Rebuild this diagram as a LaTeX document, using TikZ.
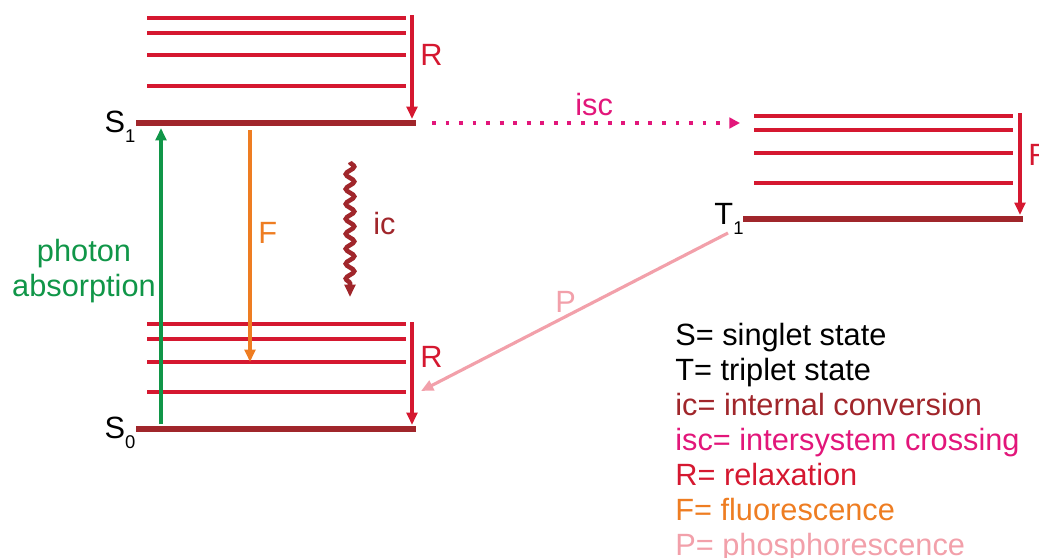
\documentclass[tikz,border=0pt]{standalone}
\usepackage{fontspec}
\setmainfont{Liberation Sans}
\usetikzlibrary{arrows.meta,decorations.pathmorphing,positioning}
\definecolor{vibred}{RGB}{213,24,48}
\definecolor{basered}{RGB}{160,38,43}
\definecolor{absgreen}{RGB}{16,150,72}
\definecolor{fluorange}{RGB}{238,125,34}
\definecolor{iscmagenta}{RGB}{226,22,122}
\definecolor{phospink}{RGB}{242,160,170}
\newcommand{\levelsub}[1]{\raisebox{-0.6ex}{\fontsize{10.5}{10.5}\selectfont #1}}

\begin{document}
\begin{tikzpicture}[x=0.02cm, y=-0.02cm, font=\fontsize{17.5}{19.5}\selectfont,
    vib/.style={vibred, line width=2.1pt},
    base/.style={basered, line width=3.2pt},
    tip/.style={-{Triangle[length=7pt,width=6pt]}},
    relax/.style={vibred, line width=1.8pt, tip},
    lbl/.style={anchor=base west, inner sep=0pt}]
    \useasboundingbox (0,0) rectangle (1039,558);
    % vibrational levels of S1, S0 and T1
    \foreach \y in {18,33,55,86,324,339,362,392}
        \draw[vib] (147,\y) -- (406,\y);
    \foreach \y in {116,130,153,183}
        \draw[vib] (754,\y) -- (1013,\y);
    % electronic levels
    \draw[base] (136,123) -- (416,123);
    \draw[base] (136,429) -- (416,429);
    \draw[base] (743,219) -- (1023,219);
    \node (s1) at (120,127) {S\levelsub{1}};
    \node (s0) at (120,433) {S\levelsub{0}};
    \node (t1) at (729,219) {T\levelsub{1}};
    % end points of the transitions
    \coordinate (r1a) at (412,15);   \coordinate (r1b) at (412,119);
    \coordinate (r0a) at (412,322);  \coordinate (r0b) at (412,425);
    \coordinate (rta) at (1020,113); \coordinate (rtb) at (1020,215);
    \coordinate (absa) at (161,424); \coordinate (absb) at (161,128);
    \coordinate (flua) at (250,130); \coordinate (flub) at (250,362);
    \coordinate (ica) at (350,162);  \coordinate (icb) at (350,297);
    \coordinate (isca) at (432,123); \coordinate (iscb) at (740,123);
    \coordinate (pha) at (728,233);  \coordinate (phb) at (421,391);
    % relaxation
    \draw[relax] (r1a) -- (r1b);
    \draw[relax] (r0a) -- (r0b);
    \draw[relax] (rta) -- (rtb);
    \node[lbl, vibred] (rtop) at (420,65) {R};
    \node[lbl, vibred] (rbot) at (420,367) {R};
    \node[lbl, vibred] (rtrip) at (1028,165) {R};
    % absorption and fluorescence
    \draw[absgreen, line width=1.8pt, tip] (absa) -- (absb);
    \node[absgreen, align=center] (absl) at (84,271) {photon\\absorption};
    \draw[fluorange, line width=1.8pt, tip] (flua) -- (flub);
    \node[lbl, fluorange] (fl) at (258,243) {F};
    % internal conversion
    \draw[basered, line width=2.6pt, tip, decorate,
        decoration={snake, segment length=8.5pt, amplitude=2.4pt, post length=5pt}]
        (ica) -- (icb);
    \node[lbl, basered] (icl) at (373,234) {ic};
    % intersystem crossing
    \draw[iscmagenta, line width=2.2pt, dash pattern=on 2.2pt off 5.5pt,
        -{Triangle[length=6pt,width=6pt]}] (isca) -- (iscb);
    \node[lbl, iscmagenta] (iscl) at (575,115) {isc};
    % phosphorescence
    \draw[phospink, line width=1.8pt, tip] (pha) -- (phb);
    \node[lbl, phospink] (phl) at (555,312) {P};
    % legend
    \node[lbl] (leg1) at (675,345) {S= singlet state};
    \node[lbl] (leg2) at (675,380) {T= triplet state};
    \node[lbl, basered] (leg3) at (675,415) {ic= internal conversion};
    \node[lbl, iscmagenta] (leg4) at (675,450) {isc= intersystem crossing};
    \node[lbl, vibred] (leg5) at (675,485) {R= relaxation};
    \node[lbl, fluorange] (leg6) at (675,520) {F= fluorescence};
    \node[lbl, phospink] (leg7) at (675,555) {P= phosphorescence};
\end{tikzpicture}
\end{document}
